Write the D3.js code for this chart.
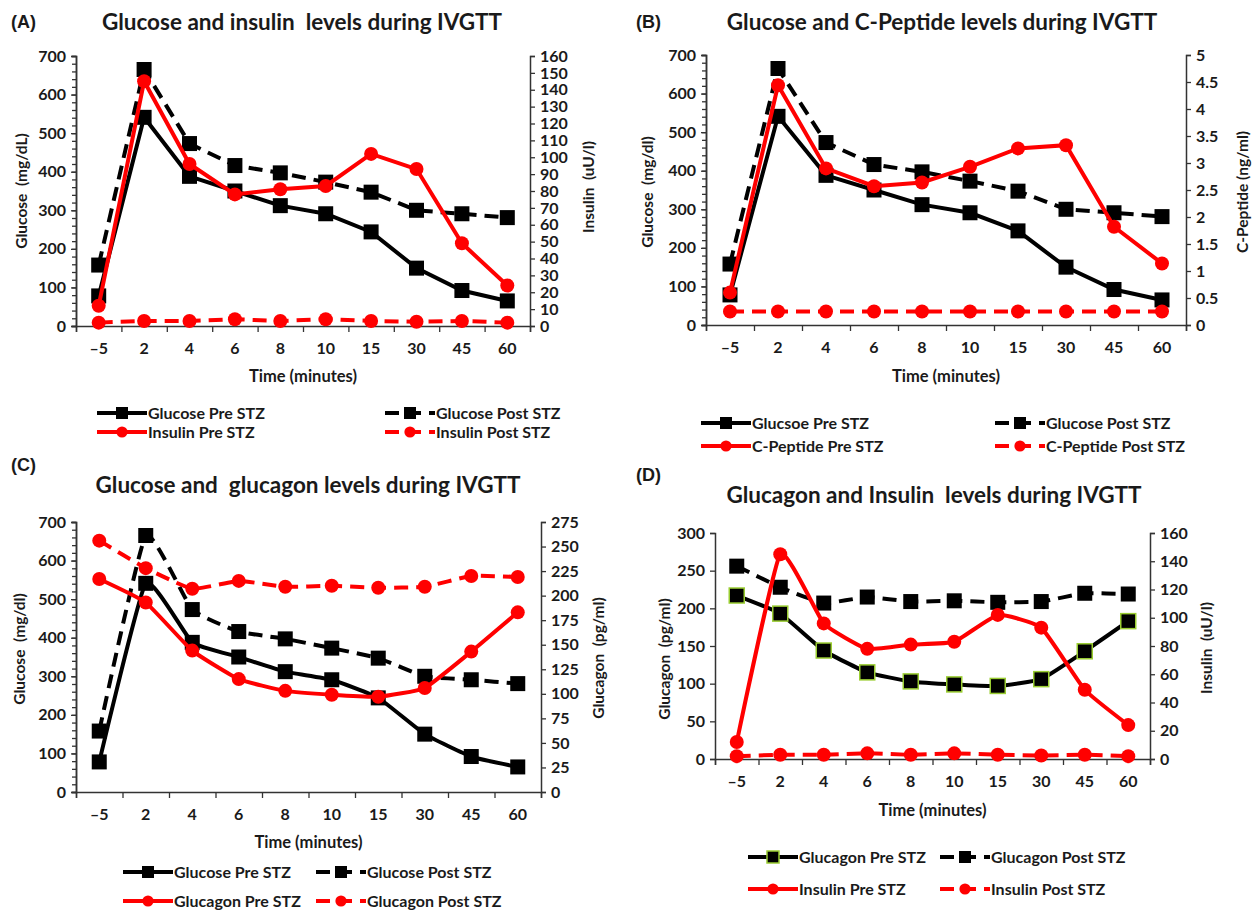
<!DOCTYPE html>
<html>
<head>
<meta charset="utf-8">
<script src="https://cdn.jsdelivr.net/npm/d3@7"></script>
<style>
  body { margin: 0; background: #fff; }
  svg text { font-family: Lato, "Open Sans", sans-serif; fill: #1a1a1a; }
</style>
</head>
<body>
<script>
'use strict';

// x categories (minutes after glucose bolus)
const timeLabels = ["\u20135", "2", "4", "6", "8", "10", "15", "30", "45", "60"];

// glucose (mg/dl)
const glucosePre  = [78, 541, 388, 350, 312, 291, 244, 150, 92, 65];
const glucosePost = [158, 665, 473, 416, 397, 373, 347, 300, 291, 281];

// insulin (uU/l)
const insulinPre  = [12, 145, 96, 78, 81, 83, 102, 93, 49, 24];
const insulinPost = [2, 3, 3, 4, 3, 4, 3, 2.5, 3, 2];

// C-peptide (ng/ml)
const cPeptidePre  = [0.6, 4.44, 2.9, 2.57, 2.64, 2.93, 3.27, 3.33, 1.82, 1.14];
const cPeptidePost = [0.25, 0.25, 0.25, 0.25, 0.25, 0.25, 0.25, 0.25, 0.25, 0.25];

// glucagon (pg/ml)
const glucagonPre  = [217, 193, 144, 115, 103, 99, 97, 106, 143, 183];
const glucagonPost = [256, 228, 207, 215, 209, 210, 208, 209, 220, 219];

(function() {

  let svg = "";

  window.onload = function() {
    svg = d3.select('body')
      .append('svg')
      .attr('width', 1259)
      .attr('height', 912);

    // (A) glucose + insulin
    drawPanel({
      x0: 76, x1: 530, y0: 326, y1: 56,
      leftMax: 700, leftStep: 100, leftMinor: 20,
      rightMax: 160, rightStep: 10,
      curve: d3.curveLinear,
      tag: "(A)", tagX: 11, tagY: 22,
      title: "Glucose and insulin  levels during IVGTT", titleX: 302, titleY: 22,
      leftLabel: "Glucose  (mg/dL)", leftLabelX: 22, leftLabelY: 191,
      rightLabel: "Insulin  (uU/l)", rightLabelX: 589, rightLabelY: 187,
      timeY: 376,
      legendX: [97, 385], legendY: [413, 432],
      series: [
        { values: glucosePre, axis: 'left', color: '#000', marker: 'square', label: "Glucose Pre STZ" },
        { values: glucosePost, axis: 'left', color: '#000', marker: 'square', dashed: true, label: "Glucose Post STZ" },
        { values: insulinPre, axis: 'right', color: '#ff0000', marker: 'circle', label: "Insulin Pre STZ" },
        { values: insulinPost, axis: 'right', color: '#ff0000', marker: 'circle', dashed: true, label: "Insulin Post STZ" }
      ]
    });

    // (B) glucose + C-peptide
    drawPanel({
      x0: 706, x1: 1186, y0: 325, y1: 55,
      leftMax: 700, leftStep: 100, leftMinor: 20,
      rightMax: 5, rightStep: 0.5,
      curve: d3.curveLinear,
      tag: "(B)", tagX: 636, tagY: 22,
      title: "Glucose and C-Peptide levels during IVGTT", titleX: 942, titleY: 22,
      leftLabel: "Glucose  (mg/dl)", leftLabelX: 648, leftLabelY: 192,
      rightLabel: "C-Peptide (ng/ml)", rightLabelX: 1243, rightLabelY: 192,
      timeY: 376,
      legendX: [701, 995], legendY: [423, 446],
      series: [
        { values: glucosePre, axis: 'left', color: '#000', marker: 'square', label: "Glucsoe Pre STZ" },
        { values: glucosePost, axis: 'left', color: '#000', marker: 'square', dashed: true, label: "Glucose Post STZ" },
        { values: cPeptidePre, axis: 'right', color: '#ff0000', marker: 'circle', label: "C-Peptide Pre STZ" },
        { values: cPeptidePost, axis: 'right', color: '#ff0000', marker: 'circle', dashed: true, label: "C-Peptide Post STZ" }
      ]
    });

    // (C) glucose + glucagon
    drawPanel({
      x0: 76, x1: 541, y0: 792, y1: 522,
      leftMax: 700, leftStep: 100, leftMinor: 20,
      rightMax: 275, rightStep: 25,
      curve: d3.curveCardinal.tension(0.6),
      tag: "(C)", tagX: 11, tagY: 465,
      title: "Glucose and  glucagon levels during IVGTT", titleX: 308, titleY: 485,
      leftLabel: "Glucose  (mg/dl)", leftLabelX: 20, leftLabelY: 649,
      rightLabel: "Glucagon  (pg/ml)", rightLabelX: 599, rightLabelY: 658,
      timeY: 842,
      legendX: [123, 316], legendY: [872, 901],
      series: [
        { values: glucosePre, axis: 'left', color: '#000', marker: 'square', label: "Glucose Pre STZ" },
        { values: glucosePost, axis: 'left', color: '#000', marker: 'square', dashed: true, label: "Glucose Post STZ" },
        { values: glucagonPre, axis: 'right', color: '#ff0000', marker: 'circle', label: "Glucagon Pre STZ" },
        { values: glucagonPost, axis: 'right', color: '#ff0000', marker: 'circle', dashed: true, label: "Glucagon Post STZ" }
      ]
    });

    // (D) glucagon + insulin
    drawPanel({
      x0: 715, x1: 1150, y0: 759, y1: 533,
      leftMax: 300, leftStep: 50, leftMinor: 0,
      rightMax: 160, rightStep: 20,
      curve: d3.curveCardinal.tension(0.6),
      tag: "(D)", tagX: 636, tagY: 475,
      title: "Glucagon and Insulin  levels during IVGTT", titleX: 934, titleY: 495,
      leftLabel: "Glucagon  (pg/ml)", leftLabelX: 665, leftLabelY: 659,
      rightLabel: "Insulin  (uU/l)", rightLabelX: 1207, rightLabelY: 648,
      timeY: 810,
      legendX: [748, 940], legendY: [857, 889],
      series: [
        { values: glucagonPre, axis: 'left', color: '#000', marker: 'square', markerStroke: '#9acd32', label: "Glucagon Pre STZ" },
        { values: glucagonPost, axis: 'left', color: '#000', marker: 'square', dashed: true, label: "Glucagon Post STZ" },
        { values: insulinPre, axis: 'right', color: '#ff0000', marker: 'circle', label: "Insulin Pre STZ" },
        { values: insulinPost, axis: 'right', color: '#ff0000', marker: 'circle', dashed: true, label: "Insulin Post STZ" }
      ]
    });
  }

  // one dual-axis panel with axes, lines, markers, titles and legend
  function drawPanel(p) {
    let g = svg.append('g');

    let xBand = d3.scaleBand().domain(timeLabels).range([p.x0, p.x1]);
    let xEdge = d3.scaleLinear().domain([0, timeLabels.length]).range([p.x0, p.x1]);
    let yLeft = d3.scaleLinear().domain([0, p.leftMax]).range([p.y0, p.y1]);
    let yRight = d3.scaleLinear().domain([0, p.rightMax]).range([p.y0, p.y1]);
    let xPos = (d, i) => xBand(timeLabels[i]) + xBand.bandwidth() / 2;

    // left axis, minor ticks first
    if (p.leftMinor) {
      g.append('g')
        .attr('transform', 'translate(' + p.x0 + ',0)')
        .call(d3.axisLeft(yLeft).tickValues(d3.range(0, p.leftMax + 1e-9, p.leftMinor)).tickSize(4).tickFormat(''))
        .call(styleAxis);
    }
    g.append('g')
      .attr('transform', 'translate(' + p.x0 + ',0)')
      .call(d3.axisLeft(yLeft).tickValues(d3.range(0, p.leftMax + 1e-9, p.leftStep)).tickSize(5).tickPadding(5))
      .call(styleAxis);

    // right axis
    g.append('g')
      .attr('transform', 'translate(' + p.x1 + ',0)')
      .call(d3.axisRight(yRight)
        .tickValues(d3.range(0, p.rightMax + 1e-9, p.rightStep))
        .tickFormat(d => String(+d.toFixed(1)))
        .tickSize(5).tickPadding(5))
      .call(styleAxis);

    // bottom axis: ticks between categories, labels centred in bands
    g.append('g')
      .attr('transform', 'translate(0,' + p.y0 + ')')
      .call(d3.axisBottom(xEdge).tickValues(d3.range(timeLabels.length + 1)).tickSize(6).tickFormat(''))
      .call(styleAxis);
    let xl = g.append('g')
      .attr('transform', 'translate(0,' + p.y0 + ')')
      .call(d3.axisBottom(xBand).tickSize(0).tickPadding(17))
      .call(styleAxis);
    xl.select('.domain').remove();

    // series
    p.series.forEach(function(s) {
      let y = s.axis === 'right' ? yRight : yLeft;
      let line = d3.line()
        .x(xPos)
        .y(d => y(d))
        .curve(p.curve);

      g.append('path')
        .datum(s.values)
        .attr('fill', 'none')
        .attr('stroke', s.color)
        .attr('stroke-width', 4)
        .attr('stroke-dasharray', s.dashed ? '14,8' : null)
        .attr('d', line);

      drawMarkers(g, s, s.values.map((v, i) => [xPos(v, i), y(v)]));
    });

    // titles
    svg.append('text')
      .attr('x', p.tagX).attr('y', p.tagY)
      .attr('dy', '0.35em')
      .style('font-family', '"Liberation Sans", Arial, sans-serif')
      .style('font-size', '18px')
      .style('font-weight', 'bold')
      .text(p.tag);

    svg.append('text')
      .attr('x', p.titleX).attr('y', p.titleY)
      .attr('dy', '0.35em')
      .attr('text-anchor', 'middle')
      .style('white-space', 'pre')
      .style('font-size', '22.5px')
      .style('font-weight', 'bold')
      .text(p.title);

    svg.append('text')
      .attr('transform', 'translate(' + p.leftLabelX + ',' + p.leftLabelY + ')rotate(-90)')
      .attr('dy', '0.35em')
      .attr('text-anchor', 'middle')
      .style('white-space', 'pre')
      .style('font-size', '15.5px')
      .style('font-weight', 'bold')
      .text(p.leftLabel);

    svg.append('text')
      .attr('transform', 'translate(' + p.rightLabelX + ',' + p.rightLabelY + ')rotate(-90)')
      .attr('dy', '0.35em')
      .attr('text-anchor', 'middle')
      .style('white-space', 'pre')
      .style('font-size', '15.5px')
      .style('font-weight', 'bold')
      .text(p.rightLabel);

    svg.append('text')
      .attr('x', (p.x0 + p.x1) / 2).attr('y', p.timeY)
      .attr('dy', '0.35em')
      .attr('text-anchor', 'middle')
      .style('font-size', '16.5px')
      .style('font-weight', 'bold')
      .text('Time (minutes)');

    // legend, 2 x 2
    p.series.forEach(function(s, i) {
      let lx = p.legendX[i % 2];
      let ly = p.legendY[Math.floor(i / 2)];
      let len = 50;
      svg.append('line')
        .attr('x1', lx).attr('x2', lx + len)
        .attr('y1', ly).attr('y2', ly)
        .attr('stroke', s.color)
        .attr('stroke-width', 4)
        .attr('stroke-dasharray', s.dashed ? '14,8' : null);
      drawMarkers(svg, s, [[lx + len / 2, ly]], 0.8);
      svg.append('text')
        .attr('x', lx + len + 1).attr('y', ly)
        .attr('dy', '0.35em')
        .style('font-size', '16px')
        .style('font-weight', 'bold')
        .text(s.label);
    });
  }

  // squares or circles at the given points
  function drawMarkers(parent, s, pts, k) {
    k = k || 1;
    if (s.marker === 'square') {
      let size = 15 * k;
      parent.selectAll(null)
        .data(pts)
        .enter()
        .append('rect')
        .attr('x', d => d[0] - size / 2)
        .attr('y', d => d[1] - size / 2)
        .attr('width', size)
        .attr('height', size)
        .attr('fill', s.color)
        .attr('stroke', s.markerStroke || 'none')
        .attr('stroke-width', 1.5);
    } else {
      parent.selectAll(null)
        .data(pts)
        .enter()
        .append('circle')
        .attr('cx', d => d[0])
        .attr('cy', d => d[1])
        .attr('r', 7 * k)
        .attr('fill', s.color);
    }
  }

  // dark axis lines and bold tick labels
  function styleAxis(sel) {
    sel.select('.domain').attr('stroke', '#333').attr('stroke-width', 1.5);
    sel.selectAll('.tick line').attr('stroke', '#333').attr('stroke-width', 1.3);
    sel.selectAll('.tick text')
      .attr('fill', '#1a1a1a')
      .style('font-family', 'Lato, "Open Sans", sans-serif')
      .style('font-size', '16px')
      .style('font-weight', 'bold');
  }

})();
</script>
</body>
</html>
